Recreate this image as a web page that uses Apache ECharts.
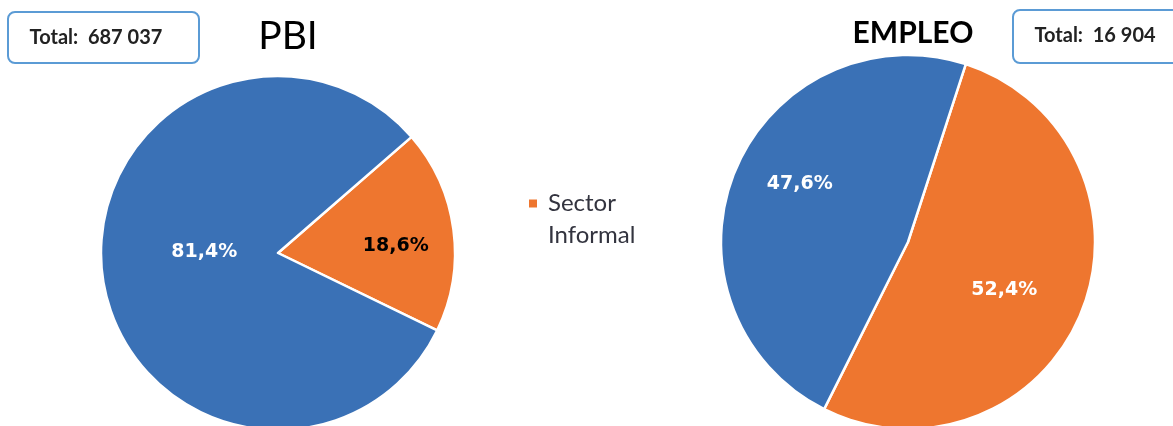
<!DOCTYPE html>
<html>
<head>
<meta charset="utf-8">
<script src="https://cdn.jsdelivr.net/npm/echarts@6/dist/echarts.min.js"></script>
<style>
html,body{margin:0;padding:0;background:#fff;}
#chart{width:1173px;height:426px;}
</style>
</head>
<body>
<div id="chart"></div>
<script>
// ---- data ----
const categories = ['Sector Informal', 'Sector Formal'];
const pbiShares = [18.6, 81.4];
const empleoShares = [52.4, 47.6];
const pbiTotal = '687 037';
const empleoTotal = '16 904';
const titles = ['PBI', 'EMPLEO'];
const legendItems = ['Sector Informal'];

const BLUE = '#3a71b6';
const ORANGE = '#ee762f';
const colors = [ORANGE, BLUE];

function fmtPct(v) { return v.toFixed(1).replace('.', ',') + '%'; }

// label offsets (styling only)
const labelShift = {
  '0-0': [27, 5], '0-1': [17, -13],
  '1-0': [7, 11], '1-1': [-19, -21]
};

function makePie(values, center, radius, startAngle, labelColors) {
  return {
    type: 'pie',
    center: center,
    radius: radius,
    startAngle: startAngle,
    clockwise: true,
    animation: false,
    avoidLabelOverlap: false,
    emphasis: { disabled: true },
    itemStyle: { borderColor: '#ffffff', borderWidth: 2.5 },
    label: {
      show: true,
      position: 'inside',
      fontFamily: 'DejaVu Sans',
      fontWeight: 'bold',
      fontSize: 19,
      formatter: p => fmtPct(p.value)
    },
    labelLine: { show: false },
    labelLayout: function (p) {
      const s = labelShift[p.seriesIndex + '-' + p.dataIndex];
      return s ? { dx: s[0], dy: s[1] } : {};
    },
    data: categories.map((c, i) => ({
      name: c,
      value: values[i],
      itemStyle: { color: colors[i] },
      label: { color: labelColors[i] }
    }))
  };
}

const chart = echarts.init(document.getElementById('chart'), null, { renderer: 'canvas' });
chart.setOption({
  backgroundColor: '#ffffff',
  animation: false,
  color: colors,
  legend: {
    data: legendItems,
    left: 522,
    top: 182,
    orient: 'vertical',
    itemWidth: 15,
    itemHeight: 41,
    itemGap: 8,
    icon: 'path://M0,0L10,0L10,10L0,10Z M15,41L15,41',
    selectedMode: false,
    formatter: n => n.replace(' ', '\n'),
    textStyle: {
      fontFamily: 'Lato',
      fontSize: 24,
      lineHeight: 32,
      color: '#33343f'
    }
  },
  series: [
    makePie(pbiShares, [278, 253], 177, 41, ['#000000', '#ffffff']),
    makePie(empleoShares, [908, 242], 187, 72, ['#ffffff', '#ffffff'])
  ],
  graphic: [
    { type: 'rect', shape: { x: 8, y: 12, width: 191, height: 51, r: 7 },
      style: { fill: '#ffffff', stroke: '#5b9bd5', lineWidth: 2 } },
    { type: 'text', style: { x: 96, y: 38, text: 'Total:  ' + pbiTotal, fontFamily: 'Lato', fontWeight: 'bold', fontSize: 20, fill: '#222', align: 'center', verticalAlign: 'middle' } },
    { type: 'rect', shape: { x: 1013, y: 10, width: 180, height: 53, r: 7 },
      style: { fill: '#ffffff', stroke: '#5b9bd5', lineWidth: 2 } },
    { type: 'text', style: { x: 1095, y: 36, text: 'Total:  ' + empleoTotal, fontFamily: 'Lato', fontWeight: 'bold', fontSize: 20, fill: '#222', align: 'center', verticalAlign: 'middle' } },
    { type: 'text', style: { x: 288, y: 36, text: titles[0], fontFamily: 'Lato', fontSize: 39, fill: '#000', align: 'center', verticalAlign: 'middle' } },
    { type: 'text', style: { x: 913, y: 33, text: titles[1], fontFamily: 'Lato', fontWeight: 'bold', fontSize: 30, fill: '#000', align: 'center', verticalAlign: 'middle' } }
  ]
});
</script>
</body>
</html>
